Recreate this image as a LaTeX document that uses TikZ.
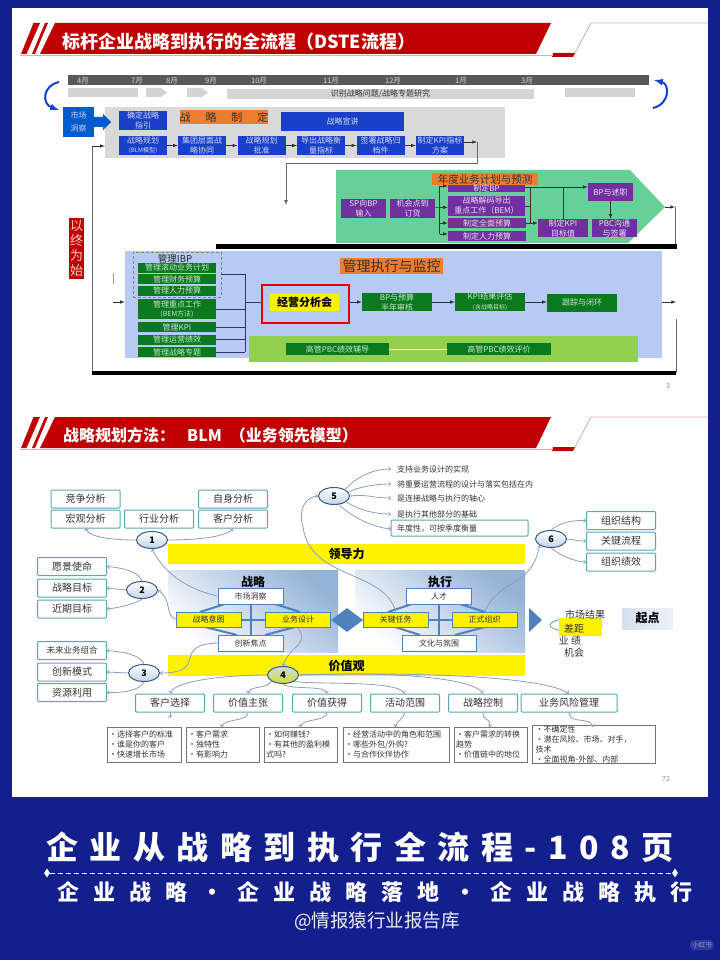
\documentclass[tikz,border=0pt]{standalone}
\usepackage{fontspec}
\setmainfont{Noto Sans CJK SC}
\usetikzlibrary{shapes}
\usepgflibrary{arrows}
\newcommand{\fsz}[2]{\fontsize{#1}{#2}\selectfont}
\definecolor{navybg}{HTML}{141F8E}
\definecolor{headred}{HTML}{C00000}
\definecolor{headpink}{HTML}{D9AEB0}
\definecolor{barblue}{HTML}{1A3FC8}
\definecolor{planorange}{HTML}{ED7D31}
\definecolor{sppurple}{HTML}{7030A0}
\definecolor{spgreen}{HTML}{66D098}
\definecolor{mgtblue}{HTML}{B6CAF4}
\definecolor{mgtgreen}{HTML}{0B7A1F}
\definecolor{limeband}{HTML}{92D050}
\definecolor{tealline}{HTML}{58A6B8}
\definecolor{curveline}{HTML}{8E9DBB}
\definecolor{steelblue}{HTML}{4F81BD}
\definecolor{inktxt}{HTML}{333333}
\tikzset{
  bluebox/.style={fill=barblue,text=white!80!barblue,font=\fsz{8}{10},align=center,inner sep=0,minimum width=48,minimum height=19},
  purplebox/.style={fill=sppurple,text=white!85!sppurple,font=\fsz{8}{10},align=center,inner sep=0,minimum width=45,minimum height=19},
  greenbox/.style={fill=mgtgreen,text=white!80!mgtgreen,font=\fsz{8}{9},align=center,inner sep=0,minimum width=78,minimum height=10},
  stagebox/.style={fill=mgtgreen,text=white!80!mgtgreen,font=\fsz{8}{10},align=center,inner sep=0,minimum width=70,minimum height=18},
  orangetag/.style={fill=planorange,text=inktxt,inner sep=0,align=center},
  tealbox/.style={draw=tealline,line width=1,fill=white,rounded corners=1,text=inktxt,font=\fsz{10}{12},inner sep=0,minimum width=69,minimum height=18},
  whitebox/.style={draw=steelblue,line width=1,fill=white,text=inktxt,font=\fsz{8}{10},inner sep=0,minimum width=65,minimum height=16},
  yellowbox/.style={draw=steelblue,line width=1,fill=yellow,text=inktxt,font=\fsz{8}{10},inner sep=0,minimum width=65,minimum height=15},
  numcirc/.style={ellipse,draw=steelblue!70!black,line width=1,top color=white,bottom color=steelblue!35,font=\bfseries\fsz{9}{10},text=black,inner sep=0,minimum width=31,minimum height=17},
  detailbox/.style={draw=black!55,line width=.8,fill=white,text=inktxt,font=\fsz{8}{10},align=left,inner sep=0,minimum height=35},
  blackarrow/.style={black!80,line width=.6,-latex},
  busline/.style={black!65!blue!60!gray,line width=.8},
  curvearrow/.style={curveline,line width=.8,->},
  planel/.style={top color=steelblue!60,bottom color=white,shading angle=-40,inner sep=0,minimum width=170,minimum height=82},
  itemtxt/.style={text=inktxt,font=\fsz{8}{10},anchor=west,inner ysep=0,inner xsep=6},
  pagenum/.style={text=black!45,font=\fsz{7}{8}},
}
\begin{document}
\begin{tikzpicture}[x=1pt,y=-1pt]
\useasboundingbox (0,0) rectangle (720,960);
\fill[navybg] (0,0) rectangle (720,960);
\fill[white] (12,8) rectangle (708,797);
% the two red title bands
\foreach \dy in {0,394} {
\begin{scope}[yshift=-\dy pt]
\fill[headred] (55,23) -- (551,23) -- (536,54) -- (40,54) -- cycle;
\fill[headred] (33.5,23) -- (40,23) -- (26.5,54) -- (21,54) -- cycle;
\fill[headred] (45,23) -- (48,23) -- (35,54) -- (32,54) -- cycle;
\fill[headred] (553,53) -- (575,53) -- (573,57) -- (552,57) -- cycle;
\draw[headpink,line width=.8] (20,55) -- (553,55);
\draw[headpink,line width=.8] (575,53) -- (591,23) -- (708,23);
\end{scope}
}
\node[anchor=west,text=white,font=\bfseries\fsz{18}{20},inner sep=0] (headA) at (62,42) {标杆企业战略到执行的全流程（DSTE流程）};
\node[anchor=west,text=white,font=\bfseries\fsz{16}{18},inner sep=0] (headB) at (63,435) {战略规划方法：\hspace{12pt}BLM\hspace{8pt}（业务领先模型）};
% timeline
\node[fill=black!65,minimum width=581,minimum height=10,inner sep=0] (timebar) at (358.5,80) {};
\foreach \mx/\mname in {83/4月,137/7月,172/8月,211/9月,259/10月,331/11月,393/12月,461/1月,527/3月}
  \node[text=black!15,font=\fsz{7.5}{8},inner sep=0] (mon\mx) at (\mx,81) {\mname};
\fill[black!17] (68,88) rectangle (138,97);
\fill[black!17] (146,88) -- (161,88) -- (167,92.5) -- (161,97) -- (146,97) -- cycle;
\fill[black!17] (187,88) -- (202,88) -- (208,92.5) -- (202,97) -- (187,97) -- cycle;
\fill[black!17] (565,88) rectangle (635,97);
\node[fill=black!17,text=inktxt,font=\fsz{8}{10},inner sep=0,minimum width=307,minimum height=10] (studybar) at (380.5,94) {识别战略问题/战略专题研究};
\draw[barblue,line width=2,-latex] (59,82) .. controls (42,86) and (42,104) .. (59,110);
\draw[barblue,line width=2,latex-] (654,80) .. controls (670,84) and (670,104) .. (653,108);
% strategy row
\node[fill=black!15,inner sep=0,minimum width=400,minimum height=51] (dstepanel) at (305,132.5) {};
\node[fill=blue!55!cyan!80!black,text=white!80!blue,font=\fsz{8}{13},align=center,inner sep=0,minimum width=31,minimum height=30] (scan) at (78.5,122) {市场\\洞察};
\fill[blue!55!cyan!80!black] (94,117) -- (103,117) -- (103,114) -- (111,122) -- (103,130) -- (103,127) -- (94,127) -- cycle;
\node[bluebox] (guide) at (143,120.5) {确定战略\\指引};
\node[orangetag,minimum width=88,minimum height=14,font=\fsz{11}{12}\addfontfeature{LetterSpace=135}] (planTag) at (224,117) {战略制定};
\node[bluebox,minimum width=123] (preach) at (342.5,121.5) {战略宣讲};
\node[bluebox] (blm) at (143,145.5) {战略规划\\[-1pt]{\fsz{6}{7}(BLM模型)}};
\node[bluebox] (group) at (202,145.5) {集团层面战\\略协同};
\node[bluebox] (approve) at (261.5,145.5) {战略规划\\批准};
\node[bluebox] (measure) at (321,145.5) {导出战略衡\\量指标};
\node[bluebox] (archive) at (380.5,145.5) {签署战略归\\档件};
\node[bluebox] (kpiplan) at (440,145.5) {制定KPI指标\\方案};
\foreach \a/\b in {blm/group,group/approve,approve/measure,measure/archive}
  \draw[blackarrow] (\a) -- (\b);
\draw[blackarrow] (archive) -- (kpiplan);
\coordinate (turnA) at (477,142);
\coordinate (turnB) at (477,163);
\coordinate (turnC) at (286,163);
\coordinate (turnD) at (286,205);
\draw[blackarrow] ([yshift=3.5pt]kpiplan.east) -- (turnA);
\draw[black!60,line width=.7,-latex] (turnA) -- (turnB) -- (turnC) -- (turnD);
\coordinate (loopTop) at (92,146);
\coordinate (loopBot) at (92,372);
\draw[black!60,line width=.7] (loopBot) -- (loopTop);
\draw[blackarrow] (loopTop) -- (dstepanel.west |- loopTop);
% yearly plan arrow
\fill[spgreen] (336,170) -- (630,170) -- (665,207) -- (628,243) -- (336,243) -- cycle;
\coordinate (tipPlan) at (665,207);
\node[orangetag,minimum width=106,minimum height=12,font=\fsz{10.5}{12}] (yearTag) at (485,179) {年度业务计划与预测};
\node[purplebox] (spinput) at (363.5,208.5) {SP向BP\\输入};
\node[purplebox] (orders) at (412.5,208.5) {机会点到\\订货};
\node[purplebox,minimum width=77,minimum height=7] (bpmake) at (486.5,188.5) {制定BP};
\node[purplebox,minimum width=77,minimum height=20] (decode) at (486.5,206) {战略解码导出\\重点工作（BEM）};
\node[purplebox,minimum width=78,minimum height=10] (budget) at (487,223) {制定全面预算};
\node[purplebox,minimum width=78,minimum height=10] (hrbudget) at (487,236) {制定人力预算};
\node[purplebox,minimum width=50,minimum height=18] (kpigoal) at (563,228) {制定KPI\\目标值};
\node[purplebox,minimum height=18] (bpreport) at (610.5,192) {BP与述职};
\node[purplebox,minimum height=18] (pbcsign) at (614.5,228) {PBC沟通\\与签署};
\coordinate (busA) at (439.5,186);
\coordinate (busB) at (439.5,234);
\coordinate (busC) at (530,187);
\coordinate (busD) at (530,223);
\draw[blackarrow] (orders) -- (decode);
\draw[black!80,line width=.6] (busA) -- (busB);
\draw[blackarrow] (busA) -- (bpmake.west |- busA);
\draw[blackarrow] (busA |- budget) -- (budget);
\draw[blackarrow] (busB) -- (hrbudget.west |- busB);
\draw[black!80,line width=.6] (busC) -- (busD);
\draw[black!80,line width=.6] (bpmake.east |- busC) -- (busC);
\draw[black!80,line width=.6] (decode.east) -- (busC |- decode.east);
\draw[black!80,line width=.6] (budget.east) -- (busC |- budget.east);
\draw[blackarrow] (busD) -- (kpigoal.west |- busD);
\draw[blackarrow] (busC) -- (bpreport.west |- busC);
\draw[black!80,line width=.6] (kpigoal.north |- busC) -- (kpigoal.north);
\draw[blackarrow] (bpreport) -- (pbcsign.north -| bpreport);
\coordinate (dropA) at (675,207);
\coordinate (dropB) at (675,245);
\draw[blackarrow] (tipPlan) -- (dropA);
\draw[black!60,line width=.7] (dropA) -- (dropB);
\fill[black] (216,244) rectangle (677,249);
\fill[black] (92,371) rectangle (676,375);
% start from the end
\node[fill=headred,text=white!80!red,font=\fsz{13}{15},align=center,inner sep=0,minimum width=15,minimum height=61] (endtag) at (76.5,248.5) {以\\终\\为\\始};
% management panel
\node[fill=mgtblue,inner sep=0,minimum width=537,minimum height=107] (mgtpanel) at (393.5,304.5) {};
\node[fill=limeband,inner sep=0,minimum width=389,minimum height=26] (pbcband) at (443.5,349) {};
\node[orangetag,minimum width=103,minimum height=16,font=\fsz{14}{16}] (mgtTag) at (391.5,266) {管理执行与监控};
\node[draw=black!50,densely dashed,line width=.7,inner sep=0,minimum width=88,minimum height=45] (ibpframe) at (177,274.5) {};
\node[text=black!85,font=\fsz{9.5}{11},inner sep=0] (ibptxt) at (175,259) {管理IBP};
\node[greenbox] (rolling) at (177,267.5) {管理滚动业务计划};
\node[greenbox] (finance) at (177,279) {管理财务预算};
\node[greenbox] (hrmgt) at (177,290.5) {管理人力预算};
\node[greenbox,minimum height=20] (keywork) at (177,309) {管理重点工作\\{\fsz{7}{9}(BEM方法)}};
\node[greenbox] (kpimgt) at (177,327) {管理KPI};
\node[greenbox] (opsmgt) at (177,339.5) {管理运营绩效};
\node[greenbox] (topicmgt) at (177,352) {管理战略专题};
\coordinate (busE) at (245,274);
\coordinate (busF) at (245,352);
\coordinate (busG) at (245,302);
\draw[busline] (busE) -- (busF);
\draw[busline] (ibpframe.east |- busE) -- (busE);
\draw[busline] (keywork.east) -- (busE |- keywork.east);
\draw[busline] (kpimgt.east) -- (busE |- kpimgt.east);
\draw[busline] (opsmgt.east) -- (busE |- opsmgt.east);
\draw[busline] (topicmgt.east) -- (busF);
\node[draw=red!90!black,line width=2.5,inner sep=0,minimum width=87,minimum height=38] (redframe) at (305.5,304) {};
\node[fill=yellow,text=black,font=\bfseries\fsz{11}{13},inner sep=0,minimum width=69,minimum height=17] (review) at (304.5,302.5) {经营分析会};
\draw[busline] (busG) -- (redframe.west |- busG);
\node[stagebox] (halfyear) at (397,302) {BP与预算\\半年审核};
\node[stagebox] (kpieval) at (490,302) {KPI结果评估\\{\fsz{6}{7}(含战略目标)}};
\node[stagebox] (closing) at (582,302.5) {跟踪与闭环};
\draw[blackarrow] (redframe.east |- halfyear) -- (halfyear);
\draw[blackarrow] (halfyear) -- (kpieval);
\draw[blackarrow] (kpieval) -- (kpieval -| closing.west);
\node[stagebox,minimum width=103,minimum height=11.5] (pbccoach) at (337.5,349) {高管PBC绩效辅导};
\node[stagebox,minimum width=104,minimum height=11.5] (pbcscore) at (499,349) {高管PBC绩效评价};
\draw[white,line width=.6] (pbccoach) -- (pbcscore);
\coordinate (inA) at (113,302);
\draw[blackarrow] (inA) -- (mgtpanel.west |- inA);
\fill[black!40] (112.5,273) rectangle (114,284);
\coordinate (outA) at (676,302);
\coordinate (upA) at (676,319);
\draw[blackarrow] (mgtpanel.east |- outA) -- (outA);
\draw[black!60,line width=.7] (upA) -- (676,373);
\node[pagenum] (pageA) at (668,386) {3};
% BLM model
\node[tealbox] (compete) at (85.5,499) {竞争分析};
\node[tealbox] (macro) at (85.5,519) {宏观分析};
\node[tealbox] (industry) at (159,519) {行业分析};
\node[tealbox] (selfana) at (233,499) {自身分析};
\node[tealbox] (custana) at (233,519) {客户分析};
\node[tealbox] (vision) at (72,566.5) {愿景使命};
\node[tealbox] (goal) at (72,588) {战略目标};
\node[tealbox] (nearg) at (72,609) {近期目标};
\node[tealbox,font=\fsz{8.5}{10}] (future) at (72,650.5) {未来业务组合};
\node[tealbox] (innov) at (72,672) {创新模式};
\node[tealbox] (resrc) at (72,692.5) {资源利用};
\node[fill=yellow,font=\bfseries\fsz{12}{14},inner sep=0,minimum width=357,minimum height=20] (leadbar) at (346.5,554) {领导力};
\node[planel] (stratpanel) at (253,611) {};
\node[planel] (execpanel) at (440,611) {};
\node[fill=yellow,font=\bfseries\fsz{12}{14},inner sep=0,minimum width=357,minimum height=21] (valuebar) at (346.5,665.5) {价值观};
\node[font=\bfseries\fsz{12}{14},inner sep=0] (stratttl) at (253,582) {战略};
\node[font=\bfseries\fsz{12}{14},inner sep=0] (execttl) at (440,582) {执行};
% the thick links sit under the boxes
\coordinate (stratMid) at (253,620);
\coordinate (execMid) at (440,620);
\begin{scope}[steelblue,line width=2]
\draw (225,604) -- (200,612); \draw (275,604) -- (300,612);
\draw (205,627) -- (237,635); \draw (295,627) -- (265,635);
\draw (251,604) -- (251,635); \draw (241,620) -- (265,620);
\draw (412,604) -- (388,612); \draw (460,604) -- (485,612);
\draw (395,627) -- (420,635); \draw (485,627) -- (455,635);
\draw (439,604) -- (439,635); \draw (428,620) -- (452,620);
\end{scope}
\node[whitebox] (scanbox) at (250.5,596) {市场洞察};
\node[yellowbox] (intent) at (208.5,619.5) {战略意图};
\node[yellowbox] (design) at (298,619.5) {业务设计};
\node[whitebox] (focus) at (250.5,643) {创新焦点};
\node[whitebox] (talent) at (439,596) {人才};
\node[yellowbox] (task) at (395.5,619.5) {关键任务};
\node[yellowbox] (formal) at (484.5,619.5) {正式组织};
\node[whitebox,minimum width=74] (culture) at (439,643) {文化与氛围};
\node[diamond,fill=steelblue,inner sep=0,minimum width=32,minimum height=24] (hinge) at (347,620) {};
\fill[steelblue] (529,608) -- (542,620) -- (529,632) -- cycle;
% gap and start point
\draw[tealline,line width=.8] (576,625) ellipse (26 and 7);
\node[fill=yellow,inner sep=0,minimum width=43,minimum height=18] (gapbox) at (580.5,627) {};
\node[text=inktxt,font=\fsz{10}{12},inner sep=0] (marketres) at (585,615) {市场结果};
\node[text=inktxt,font=\fsz{10}{12},inner sep=0] (gaptxt) at (574,628) {差距};
\node[text=inktxt,font=\fsz{10}{12},inner sep=0] (perftxt) at (570,641) {业 绩};
\node[text=inktxt,font=\fsz{10}{12},inner sep=0] (chance) at (574,653) {机会};
\node[left color=steelblue!25,right color=steelblue!10,font=\bfseries\fsz{12}{14},inner sep=0,minimum width=51,minimum height=21] (startpt) at (647.5,618.5) {起点};
% circles and their texts
\node[numcirc] (circA) at (152,540) {1};
\node[numcirc] (circB) at (142,590) {2};
\node[numcirc] (circC) at (144,673) {3};
\node[numcirc,top color=steelblue!30,bottom color=yellow!75!steelblue] (circD) at (283,675) {4};
\node[numcirc] (circE) at (334,496) {5};
\node[numcirc] (circF) at (551,539) {6};
\node[tealbox,minimum width=137,minimum height=16] (yearbox) at (459.5,528) {};
\node[itemtxt] (itemA) at (391,469) {支持业务设计的实现};
\node[itemtxt] (itemB) at (391,484) {将重要运营流程的设计与落实包括在内};
\node[itemtxt] (itemC) at (391,498) {是连接战略与执行的轴心};
\node[itemtxt] (itemD) at (391,514) {是执行其他部分的基础};
\node[itemtxt] (itemE) at (391,529) {年度性，可按季度衡量};
\node[tealbox] (orgA) at (621,520.5) {组织结构};
\node[tealbox] (orgB) at (621,541) {关键流程};
\node[tealbox] (orgC) at (621,562) {组织绩效};
% lower row
\node[tealbox] (pickA) at (170,703) {客户选择};
\node[tealbox] (pickB) at (248,703) {价值主张};
\node[tealbox] (pickC) at (327,703) {价值获得};
\node[tealbox] (pickD) at (405,703) {活动范围};
\node[tealbox] (pickE) at (483,703) {战略控制};
\node[tealbox,minimum width=96] (pickF) at (569,703) {业务风险管理};
\node[detailbox,minimum width=74,text width=70] (infoA) at (144,744.5) {•选择客户的标准\\•谁是你的客户\\•快速增长市场};
\node[detailbox,minimum width=73,text width=69] (infoB) at (222.5,744.5) {•客户需求\\•独特性\\•有影响力};
\node[detailbox,minimum width=73,text width=69] (infoC) at (300.5,744.5) {•如何赚钱?\\•有其他的盈利模\\式吗?};
\node[detailbox,minimum width=106,text width=102] (infoD) at (396,744.5) {•经营活动中的角色和范围\\•哪些外包/外购?\\•与合作伙伴协作};
\node[detailbox,minimum width=73,text width=69] (infoE) at (490.5,744.5) {•客户需求的转换\\趋势\\•价值链中的地位};
\node[detailbox,minimum width=123,text width=116] (infoF) at (593.5,744.5) {•不确定性\\•潜在风险、市场、对手，\hspace{6pt}技术\\•全面视角-外部、内部};
\node[pagenum] (pageB) at (666,779) {72};
% curved arrows
\draw[curvearrow] (circA.west) .. controls (115,540) and (90,538) .. (macro.south);
\draw[curvearrow] (circA.east) .. controls (190,540) and (225,538) .. (custana.south);
\draw[curvearrow] (scanbox.west) .. controls (190,590) and (165,575) .. (circA.south);
\draw[curvearrow] (circB.north) .. controls (138,572) and (125,568) .. (vision.east);
\draw[curvearrow] (circB.west) -- (goal.east);
\draw[curvearrow] (circB.south) .. controls (138,602) and (125,607) .. (nearg.east);
\draw[curvearrow] (intent.west) .. controls (165,615) and (172,600) .. (circB.east);
\draw[curvearrow] (circC.north) .. controls (140,655) and (125,652) .. (future.east);
\draw[curvearrow] (circC.west) -- (innov.east);
\draw[curvearrow] (circC.south) .. controls (140,690) and (125,693) .. (resrc.east);
\draw[curvearrow] (focus.west) .. controls (170,645) and (210,673) .. (circC.east);
\draw[curvearrow] (design.south) .. controls (310,645) and (290,645) .. (circD.north);
\draw[curvearrow] (task.north) .. controls (385,570) and (310,580) .. (303,527) .. controls (298,510) and (305,497) .. (circE.west);
\draw[curvearrow] (circE.30) .. controls (358,475) and (375,469) .. (itemA.west);
\draw[curvearrow] (circE.15) .. controls (358,487) and (375,484) .. (itemB.west);
\draw[curvearrow] (circE.east) .. controls (370,494) and (370,498) .. (itemC.west);
\draw[curvearrow] (circE.-25) .. controls (358,510) and (375,514) .. (itemD.west);
\draw[curvearrow] (circE.-60) .. controls (350,515) and (370,527) .. (itemE.west);
\draw[curvearrow] (formal.north) .. controls (503,575) and (530,590) .. (circF.south west);
\draw[curvearrow] (circF.north) .. controls (560,522) and (575,520) .. (orgA.west);
\draw[curvearrow] (circF.east) .. controls (572,539) and (575,541) .. (orgB.west);
\draw[curvearrow] (circF.south) .. controls (560,555) and (575,562) .. (orgC.west);
\draw[curvearrow] (circD.west) .. controls (230,675) and (175,680) .. (pickA.north);
\draw[curvearrow] (circD.south west) .. controls (265,690) and (250,685) .. (pickB.north);
\draw[curvearrow] (circD.south) .. controls (290,690) and (325,685) .. (pickC.north);
\draw[curvearrow] (circD.south east) .. controls (320,685) and (395,680) .. (pickD.north);
\draw[curvearrow] (circD.east) .. controls (370,672) and (470,675) .. (pickE.north);
\draw[curvearrow] (circD.east) .. controls (400,672) and (540,675) .. (pickF.north);
\coordinate (dropInfoA) at (170,718);
\draw[curvearrow] (pickA.south) -- (dropInfoA);
\draw[curvearrow] (pickB.south) .. controls (248,722) and (225,718) .. (221,727);
\draw[curvearrow] (pickC.south) .. controls (326,722) and (303,718) .. (300,727);
\draw[curvearrow] (pickD.south) .. controls (404,718) and (398,720) .. (395,727);
\draw[curvearrow] (pickE.south) .. controls (483,722) and (490,716) .. (490,727);
\draw[curvearrow] (pickF.south) .. controls (570,725) and (590,716) .. (593,727);
% poster footer
\node[text=white,font=\bfseries\fsz{32}{36}\addfontfeature{LetterSpace=36},inner sep=0,anchor=west] (posterA) at (46,847) {企业从战略到执行全流程-108页};
\node[diamond,fill=white,inner sep=0,minimum width=6,minimum height=9] (dotL) at (47,873) {};
\node[diamond,fill=white,inner sep=0,minimum width=6,minimum height=9] (dotR) at (675,873) {};
\draw[white,line width=1,dash pattern=on 5pt off 3pt] (dotL) -- (dotR);
\node[text=white,font=\bfseries\fsz{22}{24}\addfontfeature{LetterSpace=64},inner sep=0,anchor=west] (posterB) at (57,892) {企业战略·企业战略落地·企业战略执行};
\node[text=white!92!navybg,font=\fsz{18.5}{22},inner sep=0] (posterC) at (377,921) {@情报猿行业报告库};
\node[fill=white,opacity=.12,text opacity=.5,text=white,rounded corners=4,font=\fsz{6.5}{8},inner sep=2] (mark) at (702,945) {小红书};
\end{tikzpicture}
\end{document}
